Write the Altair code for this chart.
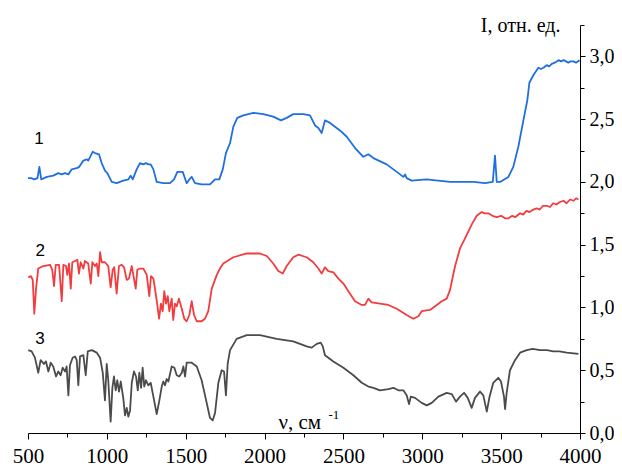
import altair as alt
import pandas as pd

# ---- spectrum 1 (blue) ----
wn1 = [500, 520, 540, 560, 572, 584, 620, 660, 692, 713, 735, 756, 777, 809, 825, 851, 872, 882,
       910, 925, 950, 967, 988, 1003, 1031, 1062, 1104, 1136, 1151, 1164, 1189, 1210, 1231, 1248,
       1263, 1278, 1295, 1316, 1358, 1400, 1426, 1447, 1464, 1481, 1506, 1523, 1538, 1559, 1601,
       1654, 1686, 1713, 1735, 1755, 1781, 1802, 1827, 1865, 1929, 1992, 2055, 2104, 2140, 2182,
       2246, 2288, 2320, 2341, 2362, 2383, 2415, 2478, 2521, 2574, 2626, 2658, 2690, 2774, 2838,
       2880, 2891, 2901, 2933, 3028, 3100, 3176, 3250, 3324, 3398, 3447, 3461, 3472, 3493, 3546,
       3577, 3609, 3641, 3666, 3679, 3704, 3720, 3736, 3752, 3768, 3789, 3805, 3821, 3840, 3864,
       3880, 3896, 3926, 3940, 3958, 3975, 3997]
int1 = [2.03, 2.03, 2.02, 2.03, 2.12, 2.02, 2.04, 2.05, 2.07, 2.06, 2.07, 2.06, 2.10, 2.11, 2.12,
        2.17, 2.18, 2.17, 2.24, 2.23, 2.22, 2.15, 2.09, 2.07, 2.00, 1.99, 2.01, 2.02, 2.05, 2.02,
        2.10, 2.15, 2.14, 2.15, 2.14, 2.14, 2.10, 2.00, 1.99, 1.99, 2.02, 2.08, 2.08, 2.08, 1.99,
        2.02, 2.04, 1.99, 1.98, 1.98, 2.02, 2.02, 2.10, 2.23, 2.31, 2.44, 2.51, 2.53, 2.55, 2.54,
        2.52, 2.49, 2.51, 2.54, 2.54, 2.53, 2.45, 2.43, 2.39, 2.49, 2.47, 2.41, 2.36, 2.27, 2.20,
        2.22, 2.19, 2.14, 2.08, 2.04, 2.06, 2.03, 2.01, 2.02, 2.01, 2.00, 2.00, 2.00, 1.99, 2.00,
        2.21, 2.00, 2.00, 2.04, 2.12, 2.28, 2.49, 2.65, 2.79, 2.85, 2.88, 2.91, 2.90, 2.91, 2.93,
        2.92, 2.94, 2.95, 2.97, 2.96, 2.97, 2.95, 2.96, 2.96, 2.95, 2.97]

# ---- spectrum 2 (red) ----
wn2 = [502, 519, 530, 540, 551, 565, 597, 640, 654, 665, 676, 697, 714, 724, 741, 749, 760, 771,
       781, 798, 813, 823, 834, 851, 861, 882, 898, 908, 925, 936, 946, 957, 967, 988, 1009, 1024,
       1037, 1047, 1062, 1077, 1094, 1109, 1126, 1140, 1158, 1168, 1183, 1193, 1210, 1231, 1253,
       1269, 1280, 1295, 1305, 1320, 1331, 1343, 1354, 1364, 1375, 1386, 1396, 1411, 1421, 1432,
       1443, 1457, 1475, 1491, 1506, 1523, 1538, 1553, 1570, 1601, 1622, 1643, 1665, 1697, 1717,
       1738, 1802, 1887, 1971, 2014, 2055, 2087, 2115, 2140, 2182, 2214, 2267, 2309, 2341, 2362,
       2383, 2404, 2436, 2468, 2500, 2531, 2574, 2616, 2637, 2658, 2679, 2732, 2785, 2838, 2901,
       2943, 2975, 2996, 3049, 3092, 3123, 3155, 3176, 3208, 3239, 3271, 3313, 3345, 3377, 3395,
       3419, 3445, 3472, 3500, 3525, 3546, 3570, 3590, 3620, 3640, 3660, 3680, 3704, 3725, 3745,
       3765, 3789, 3810, 3830, 3850, 3873, 3895, 3915, 3937, 3960, 3975, 3990]
int2 = [1.24, 1.25, 1.22, 0.95, 1.15, 1.31, 1.33, 1.34, 1.30, 1.17, 1.34, 1.34, 1.05, 1.34, 1.33,
        1.26, 1.35, 1.15, 1.36, 1.37, 1.38, 1.27, 1.36, 1.31, 1.37, 1.35, 1.19, 1.36, 1.33, 1.35,
        1.25, 1.44, 1.36, 1.36, 1.33, 1.16, 1.30, 1.32, 1.11, 1.33, 1.34, 1.32, 1.22, 1.23, 1.33,
        1.26, 1.15, 1.30, 1.31, 1.31, 1.26, 1.09, 1.25, 1.23, 1.15, 1.02, 0.91, 1.03, 0.97, 1.13,
        1.03, 1.09, 0.97, 1.07, 0.90, 1.03, 1.01, 1.07, 0.99, 0.91, 0.89, 0.94, 1.05, 0.94, 0.89,
        0.89, 0.91, 0.97, 1.15, 1.26, 1.31, 1.35, 1.40, 1.43, 1.43, 1.41, 1.35, 1.29, 1.27, 1.33,
        1.40, 1.42, 1.40, 1.36, 1.31, 1.27, 1.32, 1.29, 1.28, 1.23, 1.19, 1.13, 1.05, 1.02, 1.02,
        1.07, 1.04, 1.03, 1.02, 0.99, 0.94, 0.91, 0.93, 0.97, 0.98, 1.02, 1.05, 1.07, 1.14, 1.33,
        1.47, 1.55, 1.66, 1.73, 1.76, 1.75, 1.75, 1.73, 1.72, 1.73, 1.71, 1.71, 1.73, 1.72, 1.75,
        1.74, 1.77, 1.76, 1.78, 1.79, 1.78, 1.81, 1.81, 1.80, 1.83, 1.82, 1.84, 1.85, 1.83, 1.86,
        1.85, 1.87, 1.86]

# ---- spectrum 3 (grey) ----
wn3 = [502, 523, 544, 565, 580, 601, 614, 629, 644, 660, 678, 692, 707, 720, 735, 745, 756, 766,
       783, 798, 809, 819, 830, 851, 866, 879, 904, 936, 957, 974, 988, 999, 1009, 1024, 1035, 1045,
       1056, 1066, 1077, 1088, 1104, 1115, 1126, 1136, 1147, 1158, 1172, 1185, 1196, 1206, 1217,
       1227, 1237, 1248, 1263, 1278, 1295, 1316, 1333, 1348, 1358, 1369, 1379, 1390, 1411, 1428,
       1443, 1459, 1475, 1485, 1496, 1506, 1538, 1570, 1601, 1633, 1654, 1671, 1686, 1707, 1728,
       1743, 1755, 1766, 1781, 1823, 1887, 1971, 2077, 2182, 2267, 2299, 2331, 2356, 2369, 2383,
       2436, 2500, 2563, 2616, 2658, 2690, 2732, 2785, 2817, 2848, 2880, 2901, 2916, 2927, 2954,
       2996, 3028, 3060, 3102, 3155, 3187, 3214, 3239, 3265, 3288, 3313, 3334, 3366, 3387, 3409,
       3425, 3450, 3482, 3499, 3518, 3525, 3535, 3556, 3588, 3620, 3662, 3700, 3747, 3790, 3831,
       3870, 3916, 3960, 3990]
int3 = [0.66, 0.65, 0.60, 0.48, 0.58, 0.55, 0.57, 0.49, 0.56, 0.53, 0.45, 0.49, 0.46, 0.52, 0.49,
        0.53, 0.30, 0.54, 0.60, 0.61, 0.58, 0.38, 0.61, 0.62, 0.46, 0.65, 0.66, 0.64, 0.60, 0.48,
        0.26, 0.55, 0.42, 0.09, 0.36, 0.45, 0.34, 0.42, 0.33, 0.41, 0.28, 0.14, 0.20, 0.13, 0.18,
        0.40, 0.49, 0.45, 0.34, 0.48, 0.36, 0.52, 0.37, 0.42, 0.38, 0.40, 0.29, 0.15, 0.26, 0.37,
        0.41, 0.38, 0.43, 0.41, 0.53, 0.52, 0.46, 0.45, 0.48, 0.53, 0.45, 0.56, 0.56, 0.53, 0.42,
        0.24, 0.12, 0.10, 0.16, 0.40, 0.50, 0.49, 0.30, 0.55, 0.66, 0.75, 0.78, 0.78, 0.75, 0.73,
        0.69, 0.68, 0.71, 0.72, 0.69, 0.62, 0.57, 0.52, 0.46, 0.40, 0.37, 0.36, 0.34, 0.35, 0.36,
        0.34, 0.34, 0.30, 0.23, 0.29, 0.28, 0.24, 0.22, 0.24, 0.29, 0.32, 0.31, 0.25, 0.29, 0.32,
        0.28, 0.20, 0.28, 0.33, 0.30, 0.17, 0.28, 0.40, 0.44, 0.41, 0.29, 0.19, 0.32, 0.50, 0.58,
        0.64, 0.66, 0.67, 0.66, 0.66, 0.65, 0.65, 0.64, 0.635, 0.63]

series_names = ["1", "2", "3"]
series_colors = ["#1f6fdf", "#f23c3e", "#4b4b4b"]

# curve labels (text, wavenumber, intensity)
label_text = ["1", "2", "3"]
label_wn = [540, 548, 546]
label_int = [2.30, 1.41, 0.71]

x_major = [500, 1000, 1500, 2000, 2500, 3000, 3500, 4000]
x_minor = [750, 1250, 1750, 2250, 2750, 3250, 3750]
y_major = [0.0, 0.5, 1.0, 1.5, 2.0, 2.5, 3.0]
y_minor = [0.25, 0.75, 1.25, 1.75, 2.25, 2.75, 3.25]

rows = []
for name, xs, ys in zip(series_names, [wn1, wn2, wn3], [int1, int2, int3]):
    for xv, yv in zip(xs, ys):
        rows.append({"series": name, "wn": xv, "I": yv})
df = pd.DataFrame(rows)
labels_df = pd.DataFrame({"t": label_text, "wn": label_wn, "I": label_int})

SERIF = "'Liberation Serif', 'Times New Roman', Tinos, serif"
SANS = "'Liberation Sans', Arial, sans-serif"
x_scale = alt.Scale(domain=[500, 4000], nice=False, zero=False)
y_scale = alt.Scale(domain=[0, 3.25], nice=False, zero=False)

lines = alt.Chart(df).mark_line(strokeWidth=1.8, strokeJoin="round").encode(
    x=alt.X("wn:Q", scale=x_scale, axis=alt.Axis(
        orient="bottom", values=x_major, format="d", grid=False,
        tickSize=6, tickColor="black", tickWidth=1,
        domainColor="black", domainWidth=1,
        labelFont=SERIF, labelFontSize=21, labelColor="black", labelPadding=6,
        labelFlush=False, labelOverlap=False,
        title="ν, см", titleFont=SERIF, titleFontSize=21, titleFontWeight="normal",
        titleColor="black", titleX=250, titleY=-5, titleAlign="left",
        titleBaseline="alphabetic")),
    y=alt.Y("I:Q", scale=y_scale, axis=alt.Axis(
        orient="right", values=y_major, grid=False,
        labelExpr="replace(format(datum.value, '.1f'), '.', ',')",
        tickSize=5, tickColor="black", tickWidth=1,
        domainColor="black", domainWidth=1,
        labelFont=SERIF, labelFontSize=20, labelColor="black", labelPadding=4,
        labelFlush=False, labelOverlap=False,
        title="I, отн. ед.", titleFont=SERIF, titleFontSize=20, titleFontWeight="normal",
        titleColor="black", titleAngle=0, titleX=-20, titleY=6, titleAlign="right",
        titleBaseline="alphabetic")),
    color=alt.Color("series:N", scale=alt.Scale(domain=series_names, range=series_colors),
                    legend=None),
    detail="series:N",
)

minor = alt.Chart(df).mark_line(strokeOpacity=0).encode(
    x=alt.X("wn:Q", scale=x_scale, axis=alt.Axis(
        orient="bottom", values=x_minor, grid=False, labels=False, domain=False,
        tickSize=4, tickColor="black", tickWidth=1,
        title="-1", titleFont=SERIF, titleFontSize=13, titleFontWeight="normal",
        titleColor="black", titleX=300, titleY=-15, titleAlign="left",
        titleBaseline="alphabetic")),
    y=alt.Y("I:Q", scale=y_scale, axis=alt.Axis(
        orient="right", values=y_minor, grid=False, labels=False, domain=False,
        tickSize=4, tickColor="black", tickWidth=1, title=None)),
    detail="series:N",
)

texts = alt.Chart(labels_df).mark_text(
    font=SANS, fontSize=17, color="black", align="left", baseline="alphabetic"
).encode(
    x=alt.X("wn:Q", scale=x_scale, axis=None),
    y=alt.Y("I:Q", scale=y_scale, axis=None),
    text="t:N",
)

chart = alt.layer(lines, minor, texts).resolve_axis(
    x="independent", y="independent"
).properties(
    width=552, height=408,
    padding={"left": 20, "top": 17, "right": 34, "bottom": 38},
    autosize=alt.AutoSizeParams(type="none"),
    background="white",
).configure_view(stroke=None)

chart.save("out.html", embed_options={"renderer": "svg", "actions": False})
